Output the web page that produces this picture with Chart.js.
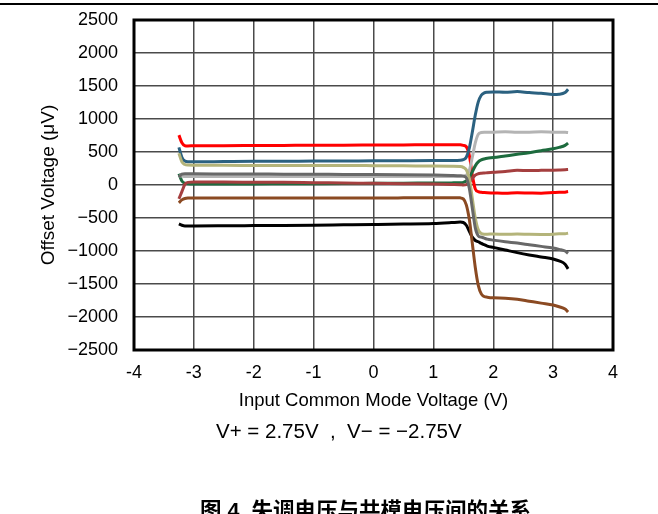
<!DOCTYPE html>
<html>

<head>
  <meta charset="utf-8">
  <title>Offset Voltage vs Common Mode Voltage</title>
  <script src="https://cdn.jsdelivr.net/npm/chart.js@4.4.0/dist/chart.umd.min.js"></script>
  <style>
    body { margin: 0; background: #fff; }
    #wrap { position: relative; width: 658px; height: 514px; overflow: hidden; }
    #rule { position: absolute; left: 0; top: 3px; width: 658px; height: 0; border-top: 2px solid #000; }
    #cond { position: absolute; left: 216px; top: 419px; font: 20.5px "Liberation Sans", Arial, sans-serif; color: #000; white-space: pre; }
    #caption { position: absolute; left: 200px; top: 493px; font: bold 21.5px "Liberation Sans", "Noto Sans CJK SC", sans-serif; color: #000; white-space: pre; }
  </style>
</head>

<body>
  <div id="wrap">
    <canvas id="vosChart" width="658" height="514"></canvas>
    <div id="rule"></div>
    <div id="cond">V+ = 2.75V  ,  V− = −2.75V</div>
    <div id="caption">图 4. 失调电压与共模电压间的关系</div>
  </div>

  <script>
    // input common mode voltage (V)
    const vcm = [-3.25, -3.2, -3.15, -3.1, -3.0, -2.5, -2.0, -1.5, -1.0, -0.5, 0, 0.5, 1.0, 1.3, 1.45, 1.5,
      1.55, 1.6, 1.65, 1.7, 1.75, 1.8, 1.85, 1.9, 2.0, 2.2, 2.4, 2.6, 2.8, 3.0, 3.1, 3.2, 3.25];

    // offset voltage (uV), one array per unit
    const unitRed = [755, 640, 595, 592, 595, 596, 598, 600, 602, 603, 605, 607, 610, 610, 608, 600,
      580, 450, 150, -60, -100, -110, -115, -118, -120, -125, -118, -122, -125, -115, -110, -108, -100];
    const unitBlue = [570, 420, 362, 352, 352, 355, 358, 360, 362, 364, 366, 368, 370, 372, 375, 385,
      420, 560, 800, 1060, 1260, 1360, 1395, 1405, 1410, 1405, 1415, 1400, 1390, 1372, 1375, 1400, 1450];
    const unitSilver = [140, 135, 130, 130, 130, 130, 130, 130, 130, 128, 128, 128, 128, 128, 130, 135,
      150, 220, 420, 640, 770, 795, 800, 798, 800, 805, 798, 800, 805, 800, 798, 800, 795];
    const unitOlive = [480, 350, 310, 302, 300, 298, 297, 296, 295, 295, 293, 290, 288, 285, 280, 268,
      230, 100, -200, -500, -680, -735, -745, -745, -742, -748, -742, -748, -750, -745, -740, -738, -730];
    const unitGray = [120, 165, 172, 172, 170, 168, 166, 164, 162, 160, 158, 155, 150, 145, 140, 135,
      110, -50, -350, -650, -770, -790, -805, -820, -835, -860, -880, -905, -930, -955, -975, -1000, -1035];
    const unitGreen = [170, 60, 25, 18, 15, 15, 16, 18, 20, 22, 25, 28, 30, 32, 35, 40,
      60, 110, 200, 290, 350, 380, 395, 405, 415, 440, 465, 490, 520, 548, 570, 600, 635];
    const unitMaroon = [-210, -100, 10, 40, 45, 45, 42, 40, 35, 30, 25, 20, 15, 8, 5, 0,
      5, 40, 100, 150, 170, 178, 182, 185, 192, 205, 222, 220, 222, 225, 228, 232, 236];
    const unitBrown = [-270, -225, -205, -198, -196, -196, -196, -196, -196, -196, -196, -195, -193, -192, -195, -210,
      -300, -520, -880, -1250, -1520, -1650, -1690, -1700, -1710, -1715, -1730, -1760, -1790, -1818, -1845, -1880, -1924];
    const unitBlack = [-590, -610, -620, -620, -620, -618, -615, -612, -608, -603, -598, -592, -583, -570, -562, -568,
      -610, -700, -790, -840, -860, -885, -905, -925, -945, -985, -1025, -1060, -1090, -1120, -1150, -1200, -1270];

    const xTicks = [-4, -3, -2, -1, 0, 1, 2, 3, 4];
    const yMin = -2500, yMax = 2500, yStep = 500;

    const units = [
      { data: unitBrown, color: '#8B4A22' },
      { data: unitBlack, color: '#000000' },
      { data: unitGray, color: '#686868' },
      { data: unitOlive, color: '#B4B47A' },
      { data: unitSilver, color: '#B4B4B4' },
      { data: unitMaroon, color: '#A53F3F' },
      { data: unitGreen, color: '#1D6B3E' },
      { data: unitBlue, color: '#2B6180' },
      { data: unitRed, color: '#FF0000' },
    ];

    const frame = {
      id: 'frame',
      afterDatasetsDraw(chart) {
        const { ctx, chartArea: a } = chart;
        ctx.save();
        ctx.strokeStyle = '#000';
        ctx.lineWidth = 3;
        ctx.strokeRect(a.left, a.top, a.right - a.left, a.bottom - a.top);
        ctx.restore();
      }
    };

    const font = { family: '"Liberation Sans", Arial, sans-serif', size: 18 };

    new Chart(document.getElementById('vosChart'), {
      type: 'line',
      data: {
        datasets: units.map(u => ({
          data: u.data.map((v, i) => ({ x: vcm[i], y: v })),
          borderColor: u.color,
          borderWidth: 3,
          pointRadius: 0,
          cubicInterpolationMode: 'monotone',
          fill: false
        }))
      },
      options: {
        responsive: false,
        animation: false,
        layout: { padding: { left: 0, right: 45, top: 20, bottom: 102 } },
        plugins: { legend: { display: false }, tooltip: { enabled: false } },
        scales: {
          x: {
            type: 'linear',
            min: xTicks[0],
            max: xTicks[xTicks.length - 1],
            afterBuildTicks: s => { s.ticks = xTicks.map(v => ({ value: v })); },
            afterFit: s => { s.height = 62; s.paddingLeft = 0; s.paddingRight = 0; },
            ticks: { color: '#000', font, padding: 12, maxRotation: 0 },
            grid: { color: '#4a4a4a', lineWidth: 1.5, drawTicks: false },
            border: { display: false },
            title: {
              display: true,
              text: 'Input Common Mode Voltage (V)',
              color: '#000',
              font: { family: font.family, size: 18.5 },
              padding: { top: 0, bottom: 0 }
            }
          },
          y: {
            min: yMin,
            max: yMax,
            afterFit: s => { s.width = 134; s.paddingTop = 0; s.paddingBottom = 0; },
            ticks: {
              stepSize: yStep,
              color: '#000',
              font,
              padding: 16,
              callback: v => String(v).replace('-', '\u2212')
            },
            grid: { color: '#4a4a4a', lineWidth: 1.5, drawTicks: false },
            border: { display: false },
            title: {
              display: true,
              text: 'Offset Voltage (μV)',
              color: '#000',
              font: { family: font.family, size: 19 },
              padding: { top: 37, bottom: 0 }
            }
          }
        }
      },
      plugins: [frame]
    });
  </script>
</body>

</html>
